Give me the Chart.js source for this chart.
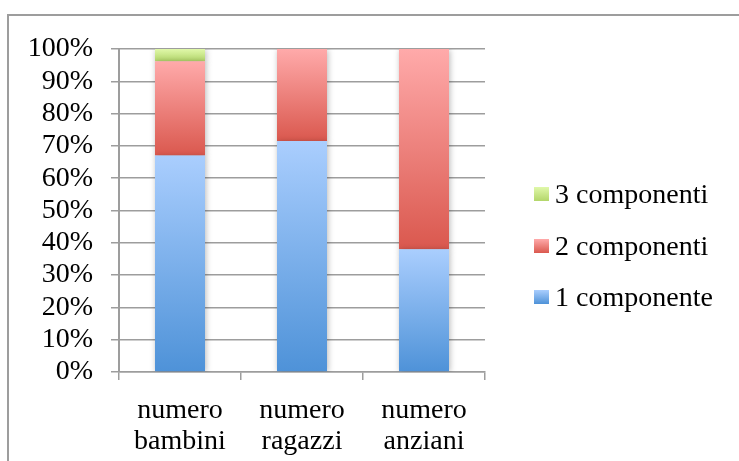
<!DOCTYPE html>
<html>
<head>
<meta charset="utf-8">
<script src="https://cdn.jsdelivr.net/npm/chart.js@4/dist/chart.umd.min.js"></script>
<style>
  html, body { margin: 0; padding: 0; background: #fff; overflow: hidden; }
  #wrap { width: 739px; height: 461px; }
</style>
</head>
<body>
<div id="wrap"><canvas id="c" width="739" height="461"></canvas></div>
<script>
// Household size share per age group (percent)
const categories = [['numero', 'bambini'], ['numero', 'ragazzi'], ['numero', 'anziani']];
const seriesLabels = ['1 componente', '2 componenti', '3 componenti'];
const oneMember = [67, 71.5, 38];
const twoMembers = [29.2, 28.5, 62];
const threeMembers = [3.8, 0, 0];
const yTicks = [0, 10, 20, 30, 40, 50, 60, 70, 80, 90, 100];

// light-to-dark vertical fills for each series
const fills = [
  { top: '#aacefe', bottom: '#4e92d8', flat: '#7fb0ea' },
  { top: '#ffaaaa', bottom: '#da584e', flat: '#ee7f78' },
  { top: '#e0f8aa', bottom: '#b3d66a', flat: '#c8e78a' }
];
const seriesData = [oneMember, twoMembers, threeMembers];

const FONT = { family: '"Liberation Serif", "Times New Roman", serif', size: 28 };

function segmentFill(ctx) {
  const chart = ctx.chart;
  const ds = ctx.datasetIndex;
  const i = ctx.dataIndex;
  const y = chart.scales.y;
  if (!chart.chartArea || !y || i === undefined) return fills[ds].flat;
  let start = 0;
  for (let k = 0; k < ds; k++) start += seriesData[k][i];
  const end = start + seriesData[ds][i];
  const yTop = y.getPixelForValue(end);
  const yBot = y.getPixelForValue(start);
  if (!isFinite(yTop) || !isFinite(yBot) || yTop === yBot) return fills[ds].flat;
  const g = chart.ctx.createLinearGradient(0, yTop, 0, yBot);
  g.addColorStop(0, fills[ds].top);
  g.addColorStop(1, fills[ds].bottom);
  return g;
}

// outer frame around the chart
const framePlugin = {
  id: 'frame',
  beforeDraw(chart) {
    const c = chart.ctx;
    c.save();
    c.fillStyle = '#ffffff';
    c.fillRect(0, 0, chart.width, chart.height);
    c.strokeStyle = '#9d9d9d';
    c.lineWidth = 2;
    c.strokeRect(8, 15, 1000, 1000);
    c.restore();
  }
};

// soft drop shadow under the bars
const shadowPlugin = {
  id: 'barShadow',
  beforeDatasetsDraw(chart) {
    const c = chart.ctx;
    c.save();
    c.shadowColor = 'rgba(0,0,0,0.28)';
    c.shadowBlur = 6;
    c.shadowOffsetX = 1;
    c.shadowOffsetY = 1;
  },
  afterDatasetsDraw(chart) {
    chart.ctx.restore();
  }
};

// series key on the right, last series first
const keyPlugin = {
  id: 'seriesKey',
  afterDraw(chart) {
    const c = chart.ctx;
    const boxX = 534, boxW = 15, boxH = 14, textX = 555;
    const rowY = [195, 247, 298];
    c.save();
    c.font = FONT.size + 'px ' + FONT.family;
    c.textBaseline = 'middle';
    c.textAlign = 'left';
    const order = chart.data.datasets.map((d, k) => k).reverse();
    order.forEach((k, r) => {
      const cy = rowY[r];
      const top = cy - boxH / 2 - 1;
      const g = c.createLinearGradient(0, top, 0, top + boxH);
      g.addColorStop(0, fills[k].top);
      g.addColorStop(1, fills[k].bottom);
      c.fillStyle = g;
      c.fillRect(boxX, top, boxW, boxH);
      c.fillStyle = '#000';
      c.fillText(chart.data.datasets[k].label, textX, cy + 1);
    });
    c.restore();
  }
};

new Chart(document.getElementById('c'), {
  type: 'bar',
  data: {
    labels: categories,
    datasets: seriesData.map((d, k) => ({
      label: seriesLabels[k],
      data: d,
      backgroundColor: segmentFill,
      borderWidth: 0,
      categoryPercentage: 1,
      barPercentage: 0.41
    }))
  },
  options: {
    responsive: false,
    devicePixelRatio: 1,
    animation: false,
    layout: { padding: { top: 49, bottom: 0, left: 0, right: 254 } },
    plugins: {
      tooltip: { enabled: false },
      legend: { display: false }
    },
    scales: {
      x: {
        stacked: true,
        grid: { display: true, drawOnChartArea: false, drawTicks: true, tickLength: 8, color: '#9d9d9d', lineWidth: 1.5, offset: true },
        border: { display: true, color: '#9d9d9d', width: 1.5 },
        ticks: { font: { ...FONT, lineHeight: 1.08 }, color: '#000', padding: 16, maxRotation: 0, autoSkip: false },
        afterFit(s) { s.height = 89; }
      },
      y: {
        stacked: true,
        min: 0,
        max: 100,
        afterBuildTicks(s) { s.ticks = yTicks.map(v => ({ value: v })); },
        grid: { color: '#9d9d9d', lineWidth: 1.5, tickLength: 8 },
        border: { display: true, color: '#9d9d9d', width: 2 },
        ticks: { font: FONT, color: '#000', padding: 18, autoSkip: false, callback: v => v + '%' },
        afterFit(s) { s.width = 119; }
      }
    }
  },
  plugins: [framePlugin, shadowPlugin, keyPlugin]
});
</script>
</body>
</html>
